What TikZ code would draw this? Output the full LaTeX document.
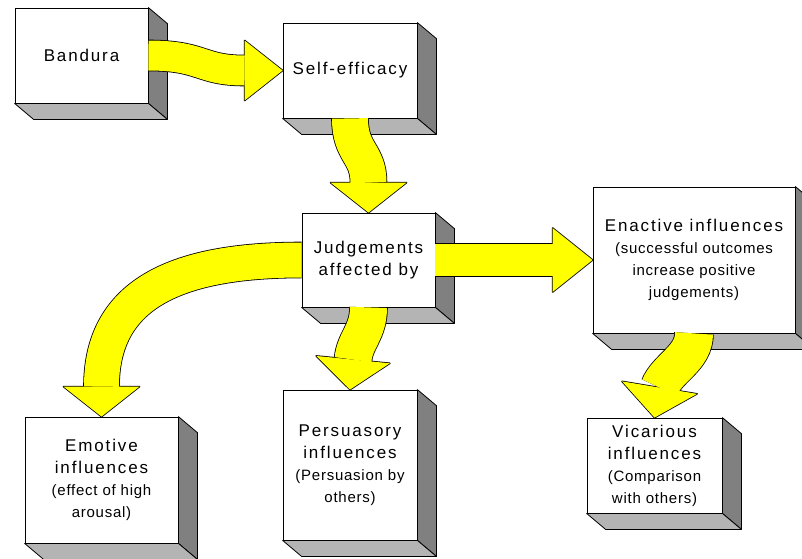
\documentclass[tikz,border=0pt]{standalone}
\usepackage{fontspec}
\usepackage{tikz}
\usetikzlibrary{calc}
\setmainfont{Liberation Sans}
\newfontfamily\bigfam[LetterSpace=11]{Liberation Sans}
\newfontfamily\smallfam[LetterSpace=5]{Liberation Sans}
\newcommand{\bigtxt}{\bigfam\fontsize{17}{22}\selectfont}
\newcommand{\smalltxt}{\smallfam\fontsize{15}{19}\selectfont}
\definecolor{AY}{HTML}{FFFF00}
\definecolor{SIDE}{HTML}{808080}
\definecolor{FLOOR}{HTML}{B4B4B4}

\newcommand{\boxsides}[1]{%
\filldraw[fill=SIDE, draw=black, line width=0.8pt, line join=round] (#1.north east) -- ([shift={(19,16)}]#1.north east) -- ([shift={(19,16)}]#1.south east) -- (#1.south east) -- cycle;%
\filldraw[fill=FLOOR, draw=black, line width=0.8pt, line join=round] (#1.south west) -- ([shift={(19,16)}]#1.south west) -- ([shift={(19,16)}]#1.south east) -- (#1.south east) -- cycle;%
}
\newcommand{\fatarrow}[5]{%
\draw[line width=#1pt+1.6pt] #2;%
\filldraw[fill=AY, draw=black, line width=1.6pt, line join=round] ($(#3)!#5pt!90:(#4)$) -- (#4) -- ($(#3)!#5pt!-90:(#4)$) -- cycle;%
\draw[AY, line width=#1pt] #2;%
\fill[AY] ($(#3)!#5pt!90:(#4)$) -- (#4) -- ($(#3)!#5pt!-90:(#4)$) -- cycle;%
}

\begin{document}
\begin{tikzpicture}[x=1pt, y=-1pt, box/.style={draw=black, fill=white, line width=0.8pt, inner sep=2pt, align=center, font=\bigtxt}]%
\useasboundingbox (0,0) rectangle (802,558);%
\clip (0,0) rectangle (802,558);%
\fill[white] (0,0) rectangle (802,558);%
\node[box, minimum width=133pt, minimum height=95pt] (band) at (81.5,55.5) {Bandura};%
\boxsides{band}%
\node[box, minimum width=134pt, minimum height=95pt] (self) at (350,70.5) {Self-efficacy};%
\boxsides{self}%
\node[box, minimum width=133pt, minimum height=94pt] (judg) at (368.5,260) {Judgements\\affected by};%
\boxsides{judg}%
\node[box, minimum width=202pt, minimum height=146pt] (enact) at (694,260) {Enactive influences\\\smalltxt (successful outcomes\\\smalltxt increase positive\\\smalltxt judgements)};%
\boxsides{enact}%
\node[box, minimum width=153pt, minimum height=126pt] (emot) at (101.5,480) {Emotive\\influences\\\smalltxt (effect of high\\\smalltxt arousal)};%
\boxsides{emot}%
\node[box, minimum width=134pt, minimum height=150pt] (pers) at (350,465) {Persuasory\\influences\\\smalltxt (Persuasion by\\\smalltxt others)};%
\boxsides{pers}%
\node[box, minimum width=135pt, minimum height=95pt] (vic) at (654.5,465.5) {Vicarious\\influences\\\smalltxt (Comparison\\\smalltxt with others)};%
\boxsides{vic}%
\coordinate (m1) at ([shift={(-38,0)}]self.west);%
\coordinate (m2) at ([shift={(0,-30)}]judg.north);%
\coordinate (m3) at ([shift={(-40,0)}]enact.west);%
\coordinate (m4) at ([shift={(0,-30)}]emot.north);%
\coordinate (m5) at ([shift={(3,-30)}]pers.north);%
\coordinate (m6) at ([shift={(5,-30)}]vic.north);%
\fatarrow{30}{(band.east) .. controls +(55,0) and +(-45,0) .. (m1)}{m1}{self.west}{30}%
\fatarrow{36}{(self.south) .. controls +(0,35) and +(0,-30) .. (m2)}{m2}{judg.north}{38}%
\fatarrow{32}{(judg.east) -- (m3)}{m3}{enact.west}{32}%
\fatarrow{35}{(judg.west) .. controls +(-130,0) and +(0,-90) .. (m4)}{m4}{emot.north}{38}%
\fatarrow{37}{(judg.south) .. controls +(0,25) and +(2,-20) .. (m5)}{m5}{pers.north}{37}%
\fatarrow{38}{(enact.south) .. controls +(0,25) and +(8,-20) .. (m6)}{m6}{vic.north}{38}%
\end{tikzpicture}
\end{document}
